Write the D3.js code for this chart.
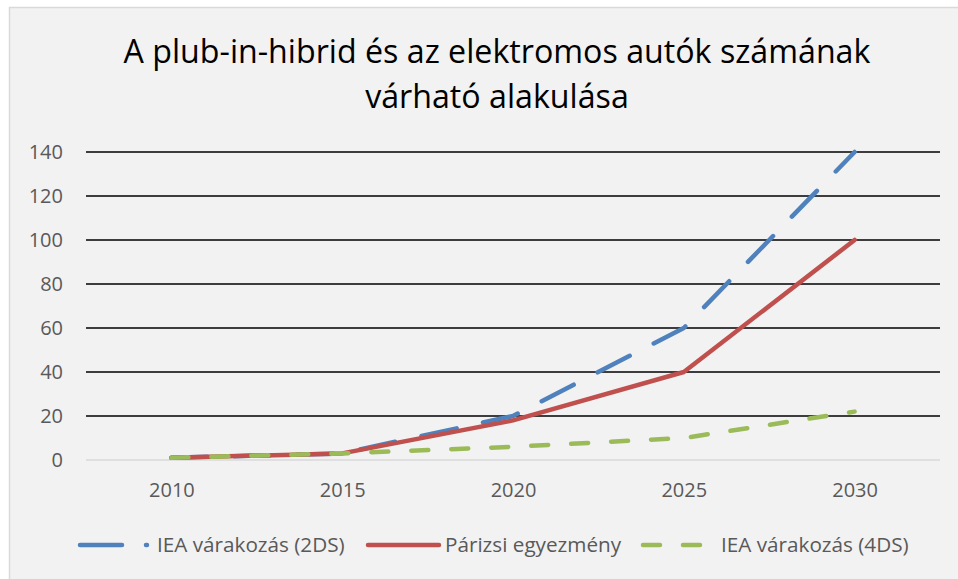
<!DOCTYPE html>
<html>
<head>
<meta charset="utf-8">
<script src="https://cdn.jsdelivr.net/npm/d3@7"></script>
<style>
  body { margin: 0; background: #fff; }
  svg { display: block; }
  text { font-family: "Open Sans", "Noto Sans", sans-serif; }
</style>
</head>
<body>
<div id="chart"></div>
<script>
const years = ['2010', '2015', '2020', '2025', '2030']
const iea2ds = [1, 3, 20, 60, 140]
const parizsi = [1, 3, 18, 40, 100]
const iea4ds = [1, 3, 6, 10, 22]
const yTicks = [0, 20, 40, 60, 80, 100, 120, 140]
const titleLines = ['A plub-in-hibrid és az elektromos autók számának', 'várható alakulása']

const series = [
  { name: 'IEA várakozás (2DS)', values: iea2ds, color: '#4f81bd', dash: '36 27' },
  { name: 'Párizsi egyezmény', values: parizsi, color: '#c0504d', dash: null },
  { name: 'IEA várakozás (4DS)', values: iea4ds, color: '#9bbb59', dash: '17 23' }
]

let w = 958,
  h = 579,
  margin = [152, 18, 119, 86] // top right bottom left

let svg = d3.select('#chart').append('svg')
  .attr('width', w)
  .attr('height', h)

// background panel
svg.append('rect')
  .attr('x', 9.5).attr('y', 7.5)
  .attr('width', w).attr('height', h)
  .attr('fill', '#f2f2f2')
  .attr('stroke', '#d9d9d9')
  .attr('stroke-width', 1.5)

// title
svg.append('g')
  .selectAll('text')
  .data(titleLines)
  .enter()
  .append('text')
  .attr('x', 497)
  .attr('y', (d, i) => 63 + i * 45)
  .attr('text-anchor', 'middle')
  .attr('font-size', 32.2)
  .attr('fill', '#000')
  .text(d => d)

let x = d3.scalePoint()
  .domain(years)
  .range([margin[3], w - margin[1]])
  .padding(0.5)

let y = d3.scaleLinear()
  .domain([0, 140])
  .range([h - margin[2], margin[0]])

// gridlines
svg.append('g')
  .selectAll('line')
  .data(yTicks)
  .enter()
  .append('line')
  .attr('x1', margin[3])
  .attr('x2', w - margin[1])
  .attr('y1', d => y(d))
  .attr('y2', d => y(d))
  .attr('stroke', d => d === 0 ? '#d9d9d9' : '#000')
  .attr('stroke-width', 1.4)

// y axis labels
let yAxis = svg.append('g')
  .attr('transform', `translate(${margin[3] - 23}, 0)`)
  .call(d3.axisLeft(y).tickValues(yTicks).tickSize(0).tickPadding(0))
yAxis.select('.domain').remove()
yAxis.selectAll('text')
  .attr('font-size', 20)
  .attr('fill', '#595959')
  .style('font-family', '"Open Sans", "Noto Sans", sans-serif')

// x axis labels
let xAxis = svg.append('g')
  .attr('transform', `translate(0, ${y(0) + 23})`)
  .call(d3.axisBottom(x).tickSize(0).tickPadding(0))
xAxis.select('.domain').remove()
xAxis.selectAll('text')
  .attr('font-size', 20)
  .attr('fill', '#595959')
  .attr('dy', '0.71em')
  .style('font-family', '"Open Sans", "Noto Sans", sans-serif')

let line = d3.line()
  .x((d, i) => x(years[i]))
  .y(d => y(d))

// lines
svg.append('g')
  .selectAll('path')
  .data(series)
  .enter()
  .append('path')
  .attr('d', d => line(d.values))
  .attr('fill', 'none')
  .attr('stroke', d => d.color)
  .attr('stroke-width', 4.5)
  .attr('stroke-linecap', 'round')
  .attr('stroke-linejoin', 'round')
  .attr('stroke-dasharray', d => d.dash)

// legend
let legendX = [80, 368, 643],
  legendLen = [67, 71, 58],
  legendDash = ['42 24', null, '17 23'],
  legendText = [77, 77, 78]

let legend = svg.append('g')
  .selectAll('g')
  .data(series)
  .enter()
  .append('g')
  .attr('transform', (d, i) => `translate(${legendX[i]}, 545)`)

legend.append('line')
  .attr('x1', 0).attr('x2', (d, i) => legendLen[i])
  .attr('y1', 0).attr('y2', 0)
  .attr('stroke', d => d.color)
  .attr('stroke-width', 4.5)
  .attr('stroke-linecap', 'round')
  .attr('stroke-dasharray', (d, i) => legendDash[i])

legend.append('text')
  .attr('x', (d, i) => legendText[i])
  .attr('y', 0)
  .attr('dy', '0.35em')
  .attr('font-size', 20.7)
  .attr('fill', '#595959')
  .text(d => d.name)
</script>
</body>
</html>
